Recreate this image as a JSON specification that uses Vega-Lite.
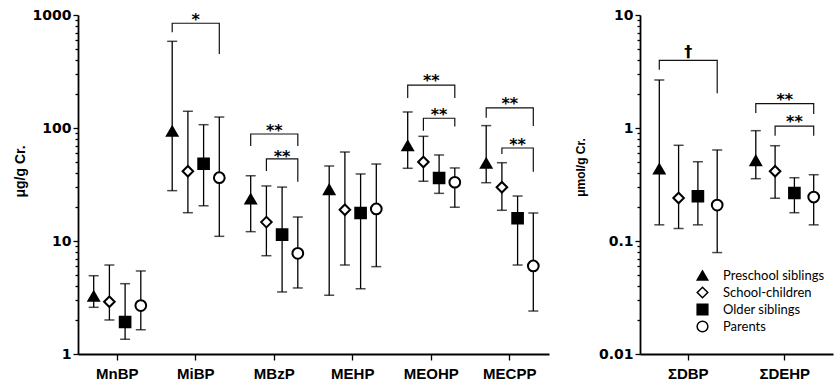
{
  "$schema": "https://vega.github.io/schema/vega-lite/v6.json",
  "padding": {"left": 13, "top": 8, "right": 5, "bottom": 2},
  "background": "white",
  "config": {
    "view": {"stroke": null},
    "concat": {"spacing": 25},
    "axis": {"grid": false, "domainColor": "black", "domainWidth": 1.8, "tickColor": "black", "tickWidth": 1.3, "labelColor": "black", "titleColor": "black"},
    "legend": {"orient": "none", "legendX": 56, "legendY": 254, "title": null, "labelFont": "Lato", "labelFontSize": 13, "labelColor": "black", "rowPadding": 0, "labelOffset": 14}
  },
  "datasets": {
    "L": [
      {"compound": "MnBP", "group": "Preschool siblings", "mid": 3.24, "lo": 2.59, "hi": 4.93},
      {"compound": "MnBP", "group": "School-children", "mid": 2.9, "lo": 2.0, "hi": 6.13},
      {"compound": "MnBP", "group": "Older siblings", "mid": 1.92, "lo": 1.35, "hi": 4.19},
      {"compound": "MnBP", "group": "Parents", "mid": 2.68, "lo": 1.64, "hi": 5.43},
      {"compound": "MiBP", "group": "Preschool siblings", "mid": 93.5, "lo": 27.9, "hi": 585},
      {"compound": "MiBP", "group": "School-children", "mid": 41.4, "lo": 17.8, "hi": 140.6},
      {"compound": "MiBP", "group": "Older siblings", "mid": 48.3, "lo": 20.5, "hi": 107},
      {"compound": "MiBP", "group": "Parents", "mid": 36.3, "lo": 11.0, "hi": 125},
      {"compound": "MBzP", "group": "Preschool siblings", "mid": 23.5, "lo": 12.1, "hi": 37.8},
      {"compound": "MBzP", "group": "School-children", "mid": 14.7, "lo": 7.41, "hi": 30.7},
      {"compound": "MBzP", "group": "Older siblings", "mid": 11.4, "lo": 3.54, "hi": 30.0},
      {"compound": "MBzP", "group": "Parents", "mid": 7.78, "lo": 3.84, "hi": 16.3},
      {"compound": "MEHP", "group": "Preschool siblings", "mid": 28.5, "lo": 3.31, "hi": 46.1},
      {"compound": "MEHP", "group": "School-children", "mid": 18.9, "lo": 6.13, "hi": 61.3},
      {"compound": "MEHP", "group": "Older siblings", "mid": 17.7, "lo": 3.78, "hi": 39.2},
      {"compound": "MEHP", "group": "Parents", "mid": 19.2, "lo": 5.93, "hi": 48.0},
      {"compound": "MEOHP", "group": "Preschool siblings", "mid": 69.7, "lo": 44.0, "hi": 138.6},
      {"compound": "MEOHP", "group": "School-children", "mid": 50.0, "lo": 33.8, "hi": 84.4},
      {"compound": "MEOHP", "group": "Older siblings", "mid": 36.1, "lo": 26.4, "hi": 57.7},
      {"compound": "MEOHP", "group": "Parents", "mid": 33.1, "lo": 19.9, "hi": 44.3},
      {"compound": "MECPP", "group": "Preschool siblings", "mid": 48.7, "lo": 32.8, "hi": 105},
      {"compound": "MECPP", "group": "School-children", "mid": 29.9, "lo": 18.7, "hi": 49.3},
      {"compound": "MECPP", "group": "Older siblings", "mid": 15.9, "lo": 6.13, "hi": 25.0},
      {"compound": "MECPP", "group": "Parents", "mid": 6.01, "lo": 2.4, "hi": 17.7}
    ],
    "R": [
      {"compound": "ΣDBP", "group": "Preschool siblings", "mid": 0.434, "lo": 0.139, "hi": 2.66},
      {"compound": "ΣDBP", "group": "School-children", "mid": 0.24, "lo": 0.129, "hi": 0.703},
      {"compound": "ΣDBP", "group": "Older siblings", "mid": 0.249, "lo": 0.139, "hi": 0.503},
      {"compound": "ΣDBP", "group": "Parents", "mid": 0.208, "lo": 0.079, "hi": 0.639},
      {"compound": "ΣDEHP", "group": "Preschool siblings", "mid": 0.514, "lo": 0.356, "hi": 0.947},
      {"compound": "ΣDEHP", "group": "School-children", "mid": 0.414, "lo": 0.239, "hi": 0.697},
      {"compound": "ΣDEHP", "group": "Older siblings", "mid": 0.266, "lo": 0.178, "hi": 0.363},
      {"compound": "ΣDEHP", "group": "Parents", "mid": 0.245, "lo": 0.139, "hi": 0.386}
    ],
    "BL": [
      {"id": "MiBP-A", "seq": 1, "compound": "MiBP", "group": "Preschool siblings", "v": 703},
      {"id": "MiBP-A", "seq": 2, "compound": "MiBP", "group": "Preschool siblings", "v": 845},
      {"id": "MiBP-A", "seq": 3, "compound": "MiBP", "group": "Parents", "v": 845},
      {"id": "MiBP-A", "seq": 4, "compound": "MiBP", "group": "Parents", "v": 452},
      {"id": "MBzP-A", "seq": 1, "compound": "MBzP", "group": "Preschool siblings", "v": 69.3},
      {"id": "MBzP-A", "seq": 2, "compound": "MBzP", "group": "Preschool siblings", "v": 88.5},
      {"id": "MBzP-A", "seq": 3, "compound": "MBzP", "group": "Parents", "v": 88.5},
      {"id": "MBzP-A", "seq": 4, "compound": "MBzP", "group": "Parents", "v": 69.3},
      {"id": "MBzP-B", "seq": 1, "compound": "MBzP", "group": "School-children", "v": 41.6},
      {"id": "MBzP-B", "seq": 2, "compound": "MBzP", "group": "School-children", "v": 53.2},
      {"id": "MBzP-B", "seq": 3, "compound": "MBzP", "group": "Parents", "v": 53.2},
      {"id": "MBzP-B", "seq": 4, "compound": "MBzP", "group": "Parents", "v": 33.5},
      {"id": "MEOHP-A", "seq": 1, "compound": "MEOHP", "group": "Preschool siblings", "v": 184},
      {"id": "MEOHP-A", "seq": 2, "compound": "MEOHP", "group": "Preschool siblings", "v": 240},
      {"id": "MEOHP-A", "seq": 3, "compound": "MEOHP", "group": "Parents", "v": 240},
      {"id": "MEOHP-A", "seq": 4, "compound": "MEOHP", "group": "Parents", "v": 184},
      {"id": "MEOHP-B", "seq": 1, "compound": "MEOHP", "group": "School-children", "v": 94.7},
      {"id": "MEOHP-B", "seq": 2, "compound": "MEOHP", "group": "School-children", "v": 122},
      {"id": "MEOHP-B", "seq": 3, "compound": "MEOHP", "group": "Parents", "v": 122},
      {"id": "MEOHP-B", "seq": 4, "compound": "MEOHP", "group": "Parents", "v": 103},
      {"id": "MECPP-A", "seq": 1, "compound": "MECPP", "group": "Preschool siblings", "v": 123},
      {"id": "MECPP-A", "seq": 2, "compound": "MECPP", "group": "Preschool siblings", "v": 151},
      {"id": "MECPP-A", "seq": 3, "compound": "MECPP", "group": "Parents", "v": 151},
      {"id": "MECPP-A", "seq": 4, "compound": "MECPP", "group": "Parents", "v": 104},
      {"id": "MECPP-B", "seq": 1, "compound": "MECPP", "group": "School-children", "v": 58.9},
      {"id": "MECPP-B", "seq": 2, "compound": "MECPP", "group": "School-children", "v": 66.5},
      {"id": "MECPP-B", "seq": 3, "compound": "MECPP", "group": "Parents", "v": 66.5},
      {"id": "MECPP-B", "seq": 4, "compound": "MECPP", "group": "Parents", "v": 41.1}
    ],
    "BR": [
      {"id": "DBP-A", "seq": 1, "compound": "ΣDBP", "group": "Preschool siblings", "v": 3.28},
      {"id": "DBP-A", "seq": 2, "compound": "ΣDBP", "group": "Preschool siblings", "v": 3.97},
      {"id": "DBP-A", "seq": 3, "compound": "ΣDBP", "group": "Parents", "v": 3.97},
      {"id": "DBP-A", "seq": 4, "compound": "ΣDBP", "group": "Parents", "v": 2.03},
      {"id": "DEHP-A", "seq": 1, "compound": "ΣDEHP", "group": "Preschool siblings", "v": 1.36},
      {"id": "DEHP-A", "seq": 2, "compound": "ΣDEHP", "group": "Preschool siblings", "v": 1.64},
      {"id": "DEHP-A", "seq": 3, "compound": "ΣDEHP", "group": "Parents", "v": 1.64},
      {"id": "DEHP-A", "seq": 4, "compound": "ΣDEHP", "group": "Parents", "v": 1.33},
      {"id": "DEHP-B", "seq": 1, "compound": "ΣDEHP", "group": "School-children", "v": 0.855},
      {"id": "DEHP-B", "seq": 2, "compound": "ΣDEHP", "group": "School-children", "v": 1.04},
      {"id": "DEHP-B", "seq": 3, "compound": "ΣDEHP", "group": "Parents", "v": 1.04},
      {"id": "DEHP-B", "seq": 4, "compound": "ΣDEHP", "group": "Parents", "v": 0.855}
    ],
    "TLA": [
      {"compound": "MiBP", "t": "*", "v": 973},
      {"compound": "MBzP", "t": "**", "v": 103},
      {"compound": "MEOHP", "t": "**", "v": 281},
      {"compound": "MECPP", "t": "**", "v": 177}
    ],
    "TLB": [
      {"compound": "MBzP", "group": "Older siblings", "t": "**", "v": 60.4},
      {"compound": "MEOHP", "group": "Older siblings", "t": "**", "v": 142},
      {"compound": "MECPP", "group": "Older siblings", "t": "**", "v": 77.2}
    ],
    "TRA": [
      {"compound": "ΣDBP", "t": "†", "v": 5.1},
      {"compound": "ΣDEHP", "t": "**", "v": 1.93}
    ],
    "TRB": [
      {"compound": "ΣDEHP", "group": "Older siblings", "t": "**", "v": 1.23}
    ]
  },
  "resolve": {
    "scale": {"shape": "independent", "fill": "independent", "size": "independent", "xOffset": "independent", "x": "independent", "y": "independent"},
    "legend": {"shape": "independent", "fill": "independent", "size": "independent"}
  },
  "hconcat": [
    {
      "width": 471,
      "height": 339,
      "layer": [
        {
          "data": {"name": "L"},
          "mark": {"type": "rule", "color": "black", "strokeWidth": 1.3},
          "encoding": {
            "x": {"field": "compound", "type": "nominal", "scale": {"domain": ["MnBP", "MiBP", "MBzP", "MEHP", "MEOHP", "MECPP"], "paddingInner": 0, "paddingOuter": 0},
              "axis": {"title": null, "labelAngle": 0, "labelFont": "Liberation Sans", "labelFontWeight": "bold", "labelFontSize": 15, "tickSize": 6, "labelPadding": 6}},
            "xOffset": {"field": "group", "type": "nominal", "scale": {"type": "point", "domain": ["Preschool siblings", "School-children", "Older siblings", "Parents"], "padding": 1}},
            "y": {"field": "lo", "type": "quantitative", "scale": {"type": "log", "domain": [1, 1000], "nice": false},
              "axis": {"title": "μg/g Cr.", "titleFont": "Liberation Sans", "titleFontSize": 14, "titleFontWeight": "bold", "titlePadding": 5, "titleY": 156,
                "labelFont": "DejaVu Sans", "labelFontWeight": "bold", "labelFontSize": 14, "labelPadding": 2,
                "values": [1, 2, 3, 4, 5, 6, 7, 8, 9, 10, 20, 30, 40, 50, 60, 70, 80, 90, 100, 200, 300, 400, 500, 600, 700, 800, 900, 1000],
                "labelExpr": "indexof([1, 10, 100, 1000], datum.value) >= 0 ? '' + datum.value : ''",
                "tickSize": {"condition": {"test": "indexof([1, 10, 100, 1000], datum.value) >= 0", "value": 5}, "value": 3}}},
            "y2": {"field": "hi"}
          }
        },
        {
          "data": {"name": "L"},
          "mark": {"type": "tick", "color": "black", "thickness": 1.5, "size": 10},
          "encoding": {
            "x": {"field": "compound", "type": "nominal"},
            "xOffset": {"field": "group", "type": "nominal"},
            "y": {"field": "lo", "type": "quantitative"}
          }
        },
        {
          "data": {"name": "L"},
          "mark": {"type": "tick", "color": "black", "thickness": 1.5, "size": 10},
          "encoding": {
            "x": {"field": "compound", "type": "nominal"},
            "xOffset": {"field": "group", "type": "nominal"},
            "y": {"field": "hi", "type": "quantitative"}
          }
        },
        {
          "data": {"name": "BL"},
          "mark": {"type": "line", "color": "#111111", "strokeWidth": 1.2},
          "encoding": {
            "x": {"field": "compound", "type": "nominal"},
            "xOffset": {"field": "group", "type": "nominal"},
            "y": {"field": "v", "type": "quantitative"},
            "detail": {"field": "id"},
            "order": {"field": "seq", "type": "quantitative"}
          }
        },
        {
          "data": {"name": "TLA"},
          "mark": {"type": "text", "font": "DejaVu Sans", "fontWeight": "bold", "fontSize": 16, "baseline": "middle", "dy": 4, "color": "black"},
          "encoding": {
            "x": {"field": "compound", "type": "nominal"},
            "y": {"field": "v", "type": "quantitative"},
            "text": {"field": "t"}
          }
        },
        {
          "data": {"name": "TLB"},
          "mark": {"type": "text", "font": "DejaVu Sans", "fontWeight": "bold", "fontSize": 16, "baseline": "middle", "dy": 4, "color": "black"},
          "encoding": {
            "x": {"field": "compound", "type": "nominal"},
            "xOffset": {"field": "group", "type": "nominal"},
            "y": {"field": "v", "type": "quantitative"},
            "text": {"field": "t"}
          }
        },
        {
          "data": {"name": "L"},
          "mark": {"type": "point", "filled": true, "stroke": "black", "strokeWidth": 2, "opacity": 1},
          "encoding": {
            "x": {"field": "compound", "type": "nominal"},
            "xOffset": {"field": "group", "type": "nominal"},
            "y": {"field": "mid", "type": "quantitative"},
            "shape": {"field": "group", "type": "nominal", "scale": {"domain": ["Preschool siblings", "School-children", "Older siblings", "Parents"], "range": ["triangle-up", "diamond", "square", "circle"]}, "legend": null},
            "fill": {"field": "group", "type": "nominal", "scale": {"domain": ["Preschool siblings", "School-children", "Older siblings", "Parents"], "range": ["black", "white", "black", "white"]}, "legend": null},
            "size": {"field": "group", "type": "nominal", "scale": {"domain": ["Preschool siblings", "School-children", "Older siblings", "Parents"], "range": [110, 115, 64, 95]}, "legend": null}
          }
        }
      ]
    },
    {
      "width": 193,
      "height": 339,
      "layer": [
        {
          "data": {"name": "R"},
          "mark": {"type": "rule", "color": "black", "strokeWidth": 1.3},
          "encoding": {
            "x": {"field": "compound", "type": "nominal", "scale": {"domain": ["ΣDBP", "ΣDEHP"], "paddingInner": 0, "paddingOuter": 0},
              "axis": {"title": null, "labelAngle": 0, "labelFont": "Liberation Sans", "labelFontWeight": "bold", "labelFontSize": 15, "tickSize": 6, "labelPadding": 6}},
            "xOffset": {"field": "group", "type": "nominal", "scale": {"type": "point", "domain": ["Preschool siblings", "School-children", "Older siblings", "Parents"], "padding": 1}},
            "y": {"field": "lo", "type": "quantitative", "scale": {"type": "log", "domain": [0.01, 10], "nice": false},
              "axis": {"title": "μmol/g Cr.", "titleFont": "Liberation Sans", "titleFontSize": 12, "titleFontWeight": "bold", "titlePadding": 11, "titleY": 152,
                "labelFont": "DejaVu Sans", "labelFontWeight": "bold", "labelFontSize": 14, "labelPadding": 2,
                "values": [0.01, 0.02, 0.03, 0.04, 0.05, 0.06, 0.07, 0.08, 0.09, 0.1, 0.2, 0.3, 0.4, 0.5, 0.6, 0.7, 0.8, 0.9, 1, 2, 3, 4, 5, 6, 7, 8, 9, 10],
                "labelExpr": "indexof([0.01, 0.1, 1, 10], datum.value) >= 0 ? '' + datum.value : ''",
                "tickSize": {"condition": {"test": "indexof([0.01, 0.1, 1, 10], datum.value) >= 0", "value": 5}, "value": 3}}},
            "y2": {"field": "hi"}
          }
        },
        {
          "data": {"name": "R"},
          "mark": {"type": "tick", "color": "black", "thickness": 1.5, "size": 10},
          "encoding": {
            "x": {"field": "compound", "type": "nominal"},
            "xOffset": {"field": "group", "type": "nominal"},
            "y": {"field": "lo", "type": "quantitative"}
          }
        },
        {
          "data": {"name": "R"},
          "mark": {"type": "tick", "color": "black", "thickness": 1.5, "size": 10},
          "encoding": {
            "x": {"field": "compound", "type": "nominal"},
            "xOffset": {"field": "group", "type": "nominal"},
            "y": {"field": "hi", "type": "quantitative"}
          }
        },
        {
          "data": {"name": "BR"},
          "mark": {"type": "line", "color": "#111111", "strokeWidth": 1.2},
          "encoding": {
            "x": {"field": "compound", "type": "nominal"},
            "xOffset": {"field": "group", "type": "nominal"},
            "y": {"field": "v", "type": "quantitative"},
            "detail": {"field": "id"},
            "order": {"field": "seq", "type": "quantitative"}
          }
        },
        {
          "data": {"name": "TRA"},
          "mark": {"type": "text", "font": "DejaVu Sans", "fontWeight": "bold", "fontSize": 16, "baseline": "middle", "dy": 4, "color": "black"},
          "encoding": {
            "x": {"field": "compound", "type": "nominal"},
            "y": {"field": "v", "type": "quantitative"},
            "text": {"field": "t"}
          }
        },
        {
          "data": {"name": "TRB"},
          "mark": {"type": "text", "font": "DejaVu Sans", "fontWeight": "bold", "fontSize": 16, "baseline": "middle", "dy": 4, "color": "black"},
          "encoding": {
            "x": {"field": "compound", "type": "nominal"},
            "xOffset": {"field": "group", "type": "nominal"},
            "y": {"field": "v", "type": "quantitative"},
            "text": {"field": "t"}
          }
        },
        {
          "data": {"name": "R"},
          "mark": {"type": "point", "filled": true, "stroke": "black", "strokeWidth": 2, "opacity": 1},
          "encoding": {
            "x": {"field": "compound", "type": "nominal"},
            "xOffset": {"field": "group", "type": "nominal"},
            "y": {"field": "mid", "type": "quantitative"},
            "shape": {"field": "group", "type": "nominal", "scale": {"domain": ["Preschool siblings", "School-children", "Older siblings", "Parents"], "range": ["triangle-up", "diamond", "square", "circle"]},
              "legend": {"encode": {"symbols": {"update": {"stroke": {"value": "black"}, "strokeWidth": {"value": 2}, "opacity": {"value": 1}}}}}},
            "fill": {"field": "group", "type": "nominal", "scale": {"domain": ["Preschool siblings", "School-children", "Older siblings", "Parents"], "range": ["black", "white", "black", "white"]},
              "legend": {"encode": {"symbols": {"update": {"stroke": {"value": "black"}, "strokeWidth": {"value": 2}, "opacity": {"value": 1}}}}}},
            "size": {"field": "group", "type": "nominal", "scale": {"domain": ["Preschool siblings", "School-children", "Older siblings", "Parents"], "range": [110, 115, 64, 95]},
              "legend": {"encode": {"symbols": {"update": {"stroke": {"value": "black"}, "strokeWidth": {"value": 2}, "opacity": {"value": 1}}}}}}
          }
        }
      ]
    }
  ]
}
